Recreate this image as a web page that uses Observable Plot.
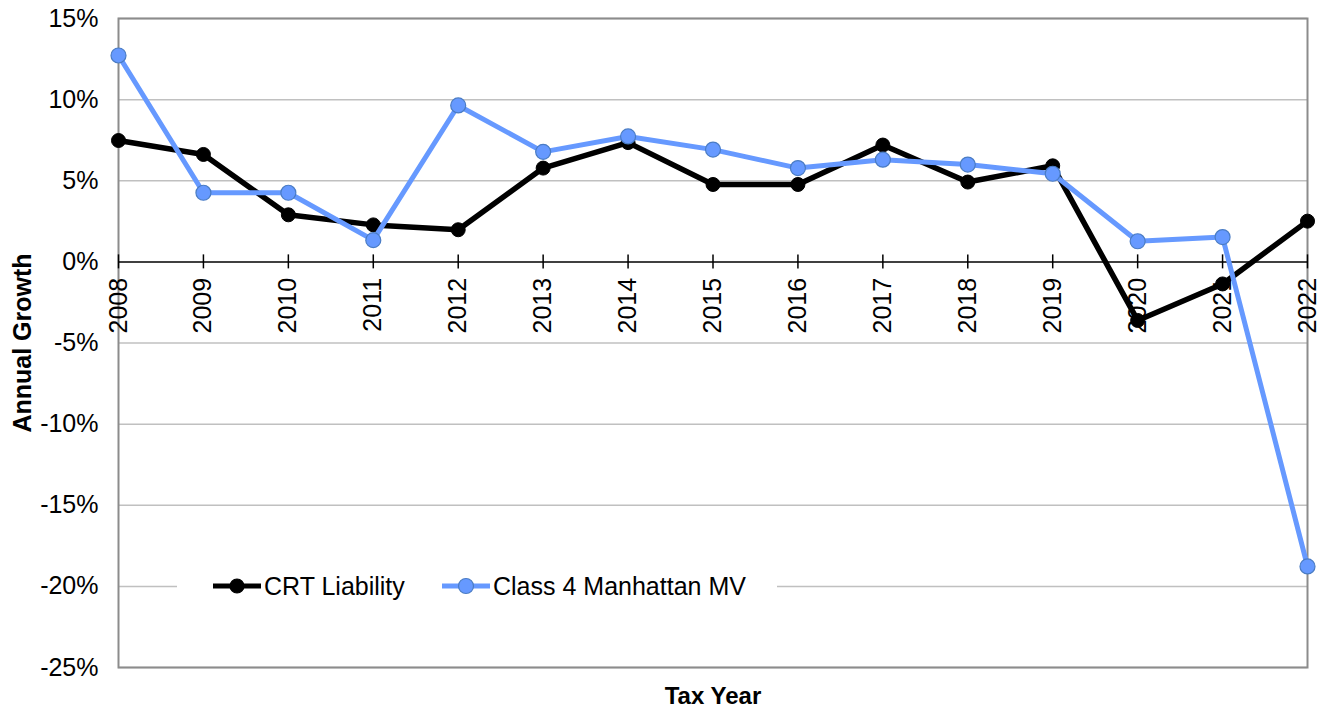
<!DOCTYPE html>
<html>
<head>
<meta charset="utf-8">
<script src="https://cdn.jsdelivr.net/npm/d3@7"></script>
<script src="https://cdn.jsdelivr.net/npm/@observablehq/plot@0.6"></script>
<style>
  html, body { margin: 0; padding: 0; background: #fff; }
  #chart { width: 1329px; height: 708px; }
</style>
</head>
<body>
<div id="chart"></div>
<script>
const years = [2008, 2009, 2010, 2011, 2012, 2013, 2014, 2015, 2016, 2017, 2018, 2019, 2020, 2021, 2022];
const crtLiability = [7.48, 6.62, 2.9, 2.28, 1.98, 5.78, 7.35, 4.77, 4.77, 7.2, 4.92, 5.92, -3.61, -1.36, 2.51];
const class4MV = [12.72, 4.26, 4.26, 1.34, 9.64, 6.78, 7.73, 6.92, 5.78, 6.3, 6.0, 5.43, 1.27, 1.53, -18.77];
const yTicks = [-25, -20, -15, -10, -5, 0, 5, 10, 15];
const seriesNames = ["CRT Liability", "Class 4 Manhattan MV"];

const BLACK = "#000000";
const BLUE = "#6699ff";
const BLUE_EDGE = "#4a7cc4";
const FONT = "'Liberation Sans', Arial, Helvetica, sans-serif";

const crtData = years.map((y, i) => ({year: y, value: crtLiability[i]}));
const mvData = years.map((y, i) => ({year: y, value: class4MV[i]}));

const plot = Plot.plot({
  width: 1329,
  height: 708,
  marginLeft: 118,
  marginRight: 22,
  marginTop: 18,
  marginBottom: 41,
  style: {fontFamily: FONT, fontSize: "25px", background: "#fff", color: "#000"},
  x: {type: "linear", domain: [2008, 2022], axis: null},
  y: {domain: [-25, 15], axis: null},
  marks: [
    Plot.ruleY(yTicks.filter(d => d !== 0), {stroke: "#c0c0c0", strokeWidth: 1.5}),
    Plot.frame({stroke: "#8c8c8c", strokeWidth: 2}),
    Plot.axisY({ticks: yTicks, tickSize: 0, tickPadding: 20, tickFormat: d => d + "%", fontSize: 25, fill: "#000", label: null}),
    Plot.ruleY([0], {stroke: "#000", strokeWidth: 1.5}),
    Plot.ruleX(years, {x: d => d, y1: 0, y2: 0, insetTop: -7, insetBottom: -7, stroke: "#000", strokeWidth: 1.5}),
    Plot.text(years, {x: d => d, y: 0, text: d => String(d), rotate: -90, textAnchor: "end", lineAnchor: "middle", dy: 16, fontSize: 25, fill: "#000"}),
    Plot.line(crtData, {x: "year", y: "value", stroke: BLACK, strokeWidth: 5.5, strokeLinejoin: "round"}),
    Plot.dot(crtData, {x: "year", y: "value", r: 7, fill: BLACK, stroke: BLACK, strokeWidth: 1}),
    Plot.line(mvData, {x: "year", y: "value", stroke: BLUE, strokeWidth: 5, strokeLinejoin: "round"}),
    Plot.dot(mvData, {x: "year", y: "value", r: 7.5, fill: BLUE, stroke: BLUE_EDGE, strokeWidth: 1.2}),
    Plot.text(["Annual Growth"], {frameAnchor: "left", dx: -96, rotate: -90, textAnchor: "middle", lineAnchor: "middle", fontWeight: "bold", fontSize: 25, fill: "#000"}),
    Plot.text(["Tax Year"], {frameAnchor: "bottom", dy: 29, textAnchor: "middle", lineAnchor: "middle", fontWeight: "bold", fontSize: 24, fill: "#000"})
  ]
});

document.getElementById("chart").appendChild(plot);

// Legend, placed inside the plot area on the -20% gridline
const svg = d3.select(plot);
const ly = 586;
const lg = svg.append("g").attr("font-family", FONT).attr("font-size", 25).attr("text-anchor", "start");
lg.append("rect").attr("x", 177).attr("y", ly - 14).attr("width", 600).attr("height", 28).attr("fill", "#fff");
const items = [
  {name: seriesNames[0], color: BLACK, edge: BLACK, x0: 213, r: 7},
  {name: seriesNames[1], color: BLUE, edge: BLUE_EDGE, x0: 442, r: 7.5}
];
items.forEach(it => {
  lg.append("line").attr("x1", it.x0).attr("x2", it.x0 + 48).attr("y1", ly).attr("y2", ly)
    .attr("stroke", it.color).attr("stroke-width", 5);
  lg.append("circle").attr("cx", it.x0 + 24).attr("cy", ly).attr("r", it.r)
    .attr("fill", it.color).attr("stroke", it.edge).attr("stroke-width", 1.2);
  lg.append("text").attr("x", it.x0 + 51).attr("y", ly).attr("dy", "0.35em")
    .attr("text-anchor", "start").attr("fill", "#000").text(it.name);
});
</script>
</body>
</html>
